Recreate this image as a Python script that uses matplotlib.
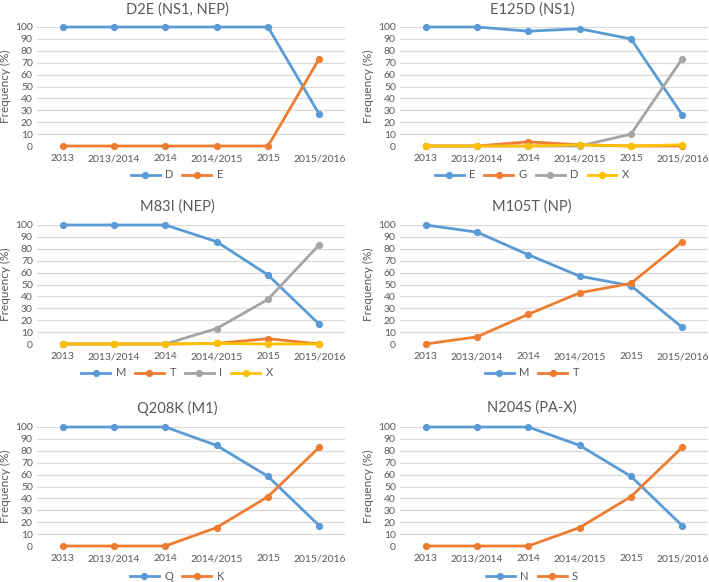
import matplotlib
matplotlib.use('Agg')
import matplotlib.pyplot as plt

plt.rcParams['font.family'] = ['Lato', 'DejaVu Sans']

years = ['2013', '2013/2014', '2014', '2014/2015', '2015', '2015/2016']

# D2E (NS1, NEP)
d2e_D = [100, 100, 100, 100, 100, 26.5]
d2e_E = [0, 0, 0, 0, 0, 73.5]
# E125D (NS1)
e125d_E = [100, 100, 96.5, 98.5, 90, 26]
e125d_G = [0, 0, 3.5, 1, 0, 0]
e125d_D = [0, 0, 0, 0, 10, 73.5]
e125d_X = [0, 0, 0, 1, 0, 1]
# M83I (NEP)
m83i_M = [100, 100, 100, 86, 58, 16.5]
m83i_T = [0, 0, 0, 0.5, 4.5, 0]
m83i_I = [0, 0, 0, 13, 37.5, 83.5]
m83i_X = [0, 0, 0, 0.5, 0, 0]
# M105T (NP)
m105t_M = [100, 94, 75, 57, 49, 14]
m105t_T = [0, 6, 25, 43, 51, 86]
# Q208K (M1)
q208k_Q = [100, 100, 100, 84.5, 58.5, 17]
q208k_K = [0, 0, 0, 15.5, 41.5, 83]
# N204S (PA-X)
n204s_N = [100, 100, 100, 84.5, 58.5, 17]
n204s_S = [0, 0, 0, 15.5, 41.5, 83]

BLUE = '#5B9BD5'
ORANGE = '#ED7D31'
GRAY = '#A5A5A5'
YELLOW = '#FFC000'
TXT = '#595959'

panels = [
    ('D2E (NS1, NEP)', [('D', d2e_D, BLUE), ('E', d2e_E, ORANGE)]),
    ('E125D (NS1)', [('E', e125d_E, BLUE), ('G', e125d_G, ORANGE),
                     ('D', e125d_D, GRAY), ('X', e125d_X, YELLOW)]),
    ('M83I (NEP)', [('M', m83i_M, BLUE), ('T', m83i_T, ORANGE),
                    ('I', m83i_I, GRAY), ('X', m83i_X, YELLOW)]),
    ('M105T (NP)', [('M', m105t_M, BLUE), ('T', m105t_T, ORANGE)]),
    ('Q208K (M1)', [('Q', q208k_Q, BLUE), ('K', q208k_K, ORANGE)]),
    ('N204S (PA-X)', [('N', n204s_N, BLUE), ('S', n204s_S, ORANGE)]),
]

W, H = 709, 582
fig = plt.figure(figsize=(W / 100, H / 100), dpi=100)

# pixel layout: (axes left, axes right, panel offset) and (y of 100, y of 0, title y, legend y)
cols = [(37, 345, 0), (400, 708, 355)]
rows = [(27, 146, 10, 175), (225, 344, 207, 373), (427, 546, 408, 576)]

for i, (title, series) in enumerate(panels):
    x0, x1, off = cols[i % 2]
    ytop, ybot, ty, ly = rows[i // 2]
    ax = fig.add_axes([x0 / W, 1 - ybot / H, (x1 - x0) / W, (ybot - ytop) / H])
    xs = range(len(years))
    for name, vals, c in series:
        ax.plot(xs, vals, color=c, lw=2.0, marker='o', ms=4.2, label=name,
                clip_on=False, zorder=3)
    ax.set_xlim(-0.5, len(years) - 0.5)
    ax.set_ylim(0, 100)
    ax.set_yticks(range(0, 101, 10))
    ax.set_xticks(list(xs))
    ax.set_xticklabels(years)
    ax.grid(axis='y', color='#D9D9D9', lw=0.9, zorder=0)
    for s in ax.spines.values():
        s.set_visible(False)
    ax.tick_params(length=0, labelsize=7.5, colors=TXT, pad=3)
    ax.tick_params(axis='x', pad=6)
    ax.set_ylabel('Frequency (%)', fontsize=8.5, color=TXT, labelpad=3)
    cx = (off + off + 354) / 2
    fig.text(cx / W, 1 - ty / H, title, ha='center', va='center',
             fontsize=10.5, color=TXT)
    leg = ax.legend(loc='center', bbox_to_anchor=(cx / W, 1 - ly / H),
                    bbox_transform=fig.transFigure, ncol=len(series),
                    frameon=False, fontsize=8, handlelength=2.6,
                    columnspacing=0.8, handletextpad=0.5)
    for t in leg.get_texts():
        t.set_color(TXT)

fig.savefig('out.png', dpi=100, facecolor='white')
